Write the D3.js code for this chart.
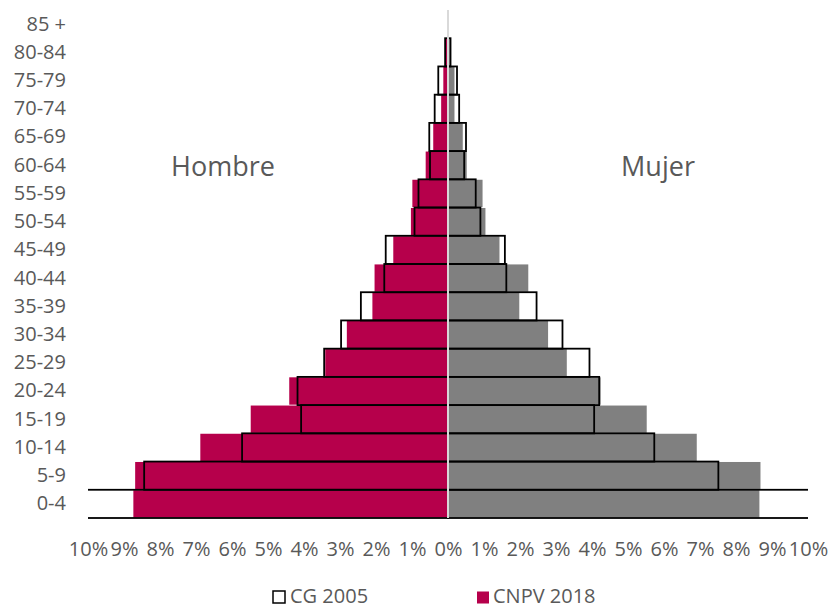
<!DOCTYPE html>
<html>
<head>
<meta charset="utf-8">
<script src="https://cdn.jsdelivr.net/npm/d3@7"></script>
<style>
  html, body { margin: 0; padding: 0; background: #fff; }
  svg { display: block; font-family: "Open Sans", "Noto Sans", sans-serif; }
</style>
</head>
<body>
<svg id="chart" width="829" height="608"></svg>
<script>
// Age groups (bottom to top)
const ageGroups = ["0-4","5-9","10-14","15-19","20-24","25-29","30-34","35-39","40-44","45-49","50-54","55-59","60-64","65-69","70-74","75-79","80-84","85 +"];
// CNPV 2018 (% of population)
const male2018   = [8.74, 8.69, 6.88, 5.48, 4.41, 3.41, 2.81, 2.10, 2.04, 1.52, 1.03, 0.99, 0.62, 0.41, 0.19, 0.13, 0.08, 0];
const female2018 = [8.65, 8.68, 6.91, 5.52, 4.24, 3.30, 2.78, 1.98, 2.23, 1.43, 1.04, 0.96, 0.52, 0.41, 0.18, 0.18, 0.05, 0];
// CG 2005 (% of population)
const male2005   = [10.6, 8.44, 5.72, 4.08, 4.18, 3.44, 2.97, 2.42, 1.77, 1.73, 0.93, 0.82, 0.50, 0.52, 0.37, 0.27, 0.08, 0];
const female2005 = [10.6, 7.51, 5.73, 4.06, 4.20, 3.93, 3.18, 2.46, 1.62, 1.58, 0.90, 0.77, 0.45, 0.50, 0.31, 0.25, 0.07, 0];
// X tick values
const xTicks = [-10,-9,-8,-7,-6,-5,-4,-3,-2,-1,0,1,2,3,4,5,6,7,8,9,10];
const seriesNames = ["CG 2005", "CNPV 2018"];

const svg = d3.select("#chart");
const x = d3.scaleLinear().domain([-10, 10]).range([88, 808]);
const y = d3.scaleBand().domain(ageGroups).range([518, 10]).paddingInner(0.03).paddingOuter(0.015);
const yo = d3.scaleBand().domain(ageGroups).range([518, 10]).padding(0);

const textColor = "#595959";
const crimson = "#b6004b";
const grey = "#808080";

svg.append("defs").append("clipPath").attr("id", "plotclip")
  .append("rect").attr("x", 88).attr("y", 0).attr("width", 720).attr("height", 540);

const plot = svg.append("g").attr("clip-path", "url(#plotclip)");

// CNPV 2018 fills
plot.append("g").selectAll("rect.m18").data(ageGroups).join("rect")
  .attr("x", (d,i) => x(-male2018[i]))
  .attr("y", d => y(d))
  .attr("width", (d,i) => x(0) - x(-male2018[i]))
  .attr("height", y.bandwidth())
  .attr("fill", crimson);
plot.append("g").selectAll("rect.f18").data(ageGroups).join("rect")
  .attr("x", x(0))
  .attr("y", d => y(d))
  .attr("width", (d,i) => x(female2018[i]) - x(0))
  .attr("height", y.bandwidth())
  .attr("fill", grey);

// CG 2005 outlines
const outl = plot.append("g").attr("fill", "none").attr("stroke", "#000").attr("stroke-width", 1.8);
outl.selectAll("rect.m05").data(ageGroups.filter((d,i) => male2005[i] > 0)).join("rect")
  .attr("x", d => x(-male2005[ageGroups.indexOf(d)]))
  .attr("y", d => yo(d))
  .attr("width", d => x(0) - x(-male2005[ageGroups.indexOf(d)]))
  .attr("height", yo.bandwidth());
outl.selectAll("rect.f05").data(ageGroups.filter((d,i) => female2005[i] > 0)).join("rect")
  .attr("x", x(0))
  .attr("y", d => yo(d))
  .attr("width", d => x(female2005[ageGroups.indexOf(d)]) - x(0))
  .attr("height", yo.bandwidth());

// center line
svg.append("line")
  .attr("x1", x(0)).attr("x2", x(0))
  .attr("y1", 10).attr("y2", 518)
  .attr("stroke", "#d9d9d9").attr("stroke-width", 2);

// Y axis labels
const yAxis = d3.axisLeft(yo).tickSize(0).tickPadding(0);
const gy = svg.append("g").attr("transform", "translate(66,0)").call(yAxis);
gy.select(".domain").remove();
gy.selectAll("text").attr("fill", textColor).style("font-size", "20px")
  .style("font-family", "'Open Sans', sans-serif");

// X axis labels
const xAxis = d3.axisBottom(x).tickValues(xTicks).tickSize(0).tickPadding(0)
  .tickFormat(d => Math.abs(d) + "%");
const gx = svg.append("g").attr("transform", "translate(0,541.5)").call(xAxis);
gx.select(".domain").remove();
gx.selectAll("text").attr("fill", textColor).style("font-size", "20px")
  .style("font-family", "'Open Sans', sans-serif");

// Side labels
svg.append("text").attr("x", 223).attr("y", 176).attr("text-anchor", "middle")
  .attr("fill", textColor).style("font-size", "27px").text("Hombre");
svg.append("text").attr("x", 658).attr("y", 176).attr("text-anchor", "middle")
  .attr("fill", textColor).style("font-size", "27px").text("Mujer");

// Legend
const lg = svg.append("g");
lg.append("rect").attr("x", 273).attr("y", 591).attr("width", 12).attr("height", 12)
  .attr("fill", "#fff").attr("stroke", "#000").attr("stroke-width", 1.5);
lg.append("text").attr("x", 290).attr("y", 602.5).attr("fill", textColor)
  .style("font-size", "20px").text(seriesNames[0]);
lg.append("rect").attr("x", 477).attr("y", 591.5).attr("width", 12).attr("height", 12)
  .attr("fill", crimson);
lg.append("text").attr("x", 493).attr("y", 602.5).attr("fill", textColor)
  .style("font-size", "20px").text(seriesNames[1]);
</script>
</body>
</html>
